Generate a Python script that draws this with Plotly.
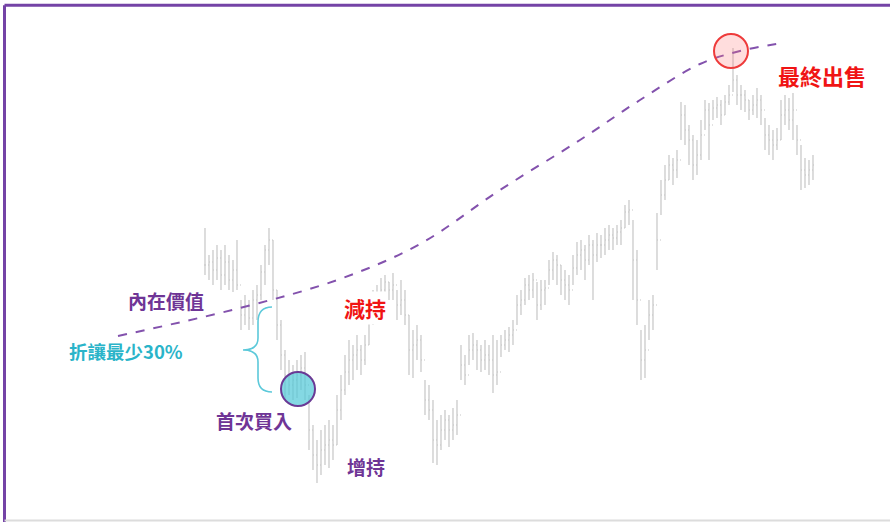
import plotly.graph_objects as go

# ---- price bars (bar index, price units) ----
HIGH = [294, 267, 272, 277, 272, 277, 267, 262, 282, 222, 227, 222, 232, 237, 257, 277, 294, 282, 232, 202,
        172, 162, 157, 162, 167, 170, 127, 97, 82, 92, 97, 102, 97, 127, 147, 167, 182, 177, 187, 177,
        187, 212, 232, 237, 244, 247, 240, 249, 232, 242, 232, 207, 192, 197, 187, 142, 137, 122, 102, 107,
        112, 107, 114, 122, 177, 167, 187, 189, 182, 177, 182, 177, 187, 182, 187, 192, 195, 202, 227, 232,
        244, 247, 249, 240, 242, 242, 262, 270, 267, 257, 252, 247, 267, 280, 282, 277, 287, 282, 289, 287,
        294, 297, 294, 297, 302, 317, 322, 302, 272, 192, 197, 222, 227, 309, 342, 357, 367, 364, 372, 420,
        417, 397, 387, 382, 402, 422, 419, 422, 425, 422, 427, 437, 474, 447, 437, 432, 422, 427, 434, 427,
        404, 397, 392, 394, 422, 427, 424, 429, 397, 377, 364, 362, 367]
LOW = [247, 242, 237, 242, 232, 237, 232, 230, 232, 192, 197, 192, 197, 202, 222, 237, 257, 222, 182, 152,
       122, 127, 122, 124, 132, 122, 72, 52, 39, 47, 57, 54, 62, 77, 102, 127, 137, 142, 152, 147,
       157, 177, 197, 202, 222, 227, 222, 222, 202, 207, 197, 147, 144, 162, 150, 107, 102, 59, 57, 72,
       82, 75, 82, 87, 142, 137, 157, 162, 152, 150, 152, 147, 129, 137, 165, 172, 170, 177, 197, 207,
       217, 222, 224, 202, 212, 217, 237, 242, 237, 227, 222, 217, 237, 247, 252, 242, 257, 222, 260, 264,
       267, 272, 272, 277, 277, 294, 297, 222, 197, 142, 144, 182, 192, 252, 307, 322, 342, 337, 344, 382,
       377, 357, 342, 347, 362, 392, 362, 402, 404, 397, 407, 417, 430, 417, 412, 410, 402, 407, 404, 397,
       372, 367, 362, 372, 382, 397, 392, 382, 367, 332, 334, 337, 342]
CLOSE = [257, 260, 252, 264, 247, 260, 242, 252, 237, 207, 217, 204, 222, 227, 250, 272, 282, 232, 197, 167,
         147, 137, 142, 147, 154, 137, 92, 67, 57, 72, 77, 82, 77, 112, 132, 150, 162, 167, 172, 162,
         177, 202, 222, 227, 232, 240, 232, 237, 217, 222, 207, 172, 177, 182, 162, 122, 112, 82, 77, 92,
         102, 92, 97, 107, 157, 147, 172, 177, 172, 162, 167, 162, 147, 150, 177, 182, 187, 192, 217, 222,
         237, 232, 242, 217, 232, 234, 252, 262, 257, 242, 237, 232, 254, 267, 272, 262, 277, 267, 277, 277,
         282, 287, 284, 290, 294, 310, 312, 262, 222, 162, 172, 207, 217, 282, 327, 342, 357, 352, 362, 407,
         392, 382, 357, 367, 387, 412, 397, 414, 417, 407, 420, 427, 442, 427, 427, 422, 412, 417, 422, 412,
         387, 382, 377, 382, 407, 412, 402, 412, 382, 352, 347, 352, 357]
OPEN = [CLOSE[0]] + CLOSE[:-1]

# ---- intrinsic value curve ----
IV_X = [-21.75, 8.75, 33.75, 53.75, 73.75, 93.75, 108.75, 123.75, 133.75, 144.25]
IV_Y = [186, 214, 243, 278, 332, 382, 422, 458, 471, 479]

PURPLE = "#6f3596"
LINE_PURPLE = "#8352ad"
CYAN = "#2ab4c9"
RED = "#f01414"
FONT = "Noto Sans CJK TC, Noto Sans CJK SC, sans-serif"

fig = go.Figure()
fig.add_trace(go.Ohlc(
    x=list(range(len(HIGH))), open=OPEN, high=HIGH, low=LOW, close=CLOSE,
    increasing=dict(line=dict(color="#c6c6c6", width=1.2)),
    decreasing=dict(line=dict(color="#c6c6c6", width=1.2)),
    tickwidth=0.25, showlegend=False, hoverinfo="skip"))
fig.add_trace(go.Scatter(
    x=IV_X, y=IV_Y, mode="lines",
    line=dict(color=LINE_PURPLE, width=2, dash="dash", shape="spline", smoothing=1.0),
    showlegend=False, hoverinfo="skip"))

shapes = [
    # frame
    dict(type="line", xref="paper", yref="paper", x0=4.5/890, x1=1.01, y0=1-5.3/522, y1=1-5.3/522,
         line=dict(color="#7443a6", width=3)),
    dict(type="line", xref="paper", yref="paper", x0=4.5/890, x1=4.5/890, y0=-0.01, y1=1-5.3/522,
         line=dict(color="#7443a6", width=3)),
    dict(type="line", xref="paper", yref="paper", x0=4.5/890, x1=1.01, y0=1.5/522, y1=1.5/522,
         line=dict(color="#dcdcdc", width=2)),
    # first buy circle
    dict(type="circle", xref="x", yref="y", x0=19.0, x1=27.5, y0=116, y1=150,
         fillcolor="rgba(80,200,215,0.7)", line=dict(color="#6a3a95", width=2)),
    # final sale circle
    dict(type="circle", xref="x", yref="y", x0=127.25, x1=135.75, y0=454, y1=488,
         fillcolor="rgba(255,120,120,0.25)", line=dict(color="#ee3b3b", width=2)),
    # brace
    dict(type="path", xref="x", yref="y",
         path="M 16.75,215 Q 13.25,215 13.25,200 L 13.25,184 Q 13.25,172 9.5,172 "
              "Q 13.25,172 13.25,160 L 13.25,144 Q 13.25,130 16.75,130",
         line=dict(color="#5cc9da", width=1.6)),
]

annotations = [
    dict(x=-9.75, y=222, text="<b>內在價值</b>", font=dict(color=PURPLE, size=19, family=FONT)),
    dict(x=-19.75, y=171, text="<b>折讓最少30%</b>", font=dict(color=CYAN, size=18.5, family=FONT)),
    dict(x=12.25, y=102, text="<b>首次買入</b>", font=dict(color=PURPLE, size=19, family=FONT)),
    dict(x=40.25, y=56, text="<b>增持</b>", font=dict(color=PURPLE, size=19, family=FONT)),
    dict(x=40.0, y=214, text="<b>減持</b>", font=dict(color=RED, size=21, family=FONT), bgcolor="white"),
    dict(x=154.25, y=447, text="<b>最終出售</b>", font=dict(color=RED, size=22, family=FONT), bgcolor="white"),
]
for a in annotations:
    a.update(xref="x", yref="y", showarrow=False, xanchor="center", yanchor="middle")

fig.update_layout(
    width=890, height=522, margin=dict(l=0, r=0, t=0, b=0),
    paper_bgcolor="white", plot_bgcolor="white",
    xaxis=dict(range=[-51.25, 171.25], visible=False, rangeslider=dict(visible=False), fixedrange=True),
    yaxis=dict(range=[0, 522], visible=False, fixedrange=True),
    shapes=shapes, annotations=annotations, showlegend=False)

fig.write_html("out.html", config={"displayModeBar": False},
               post_script="document.body.style.margin='0';document.body.style.overflow='hidden';")
